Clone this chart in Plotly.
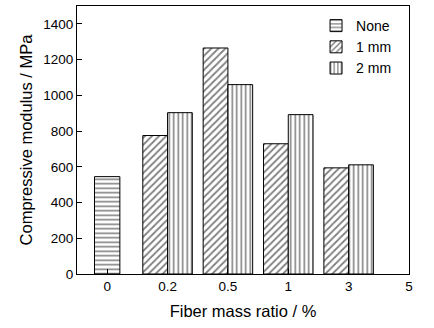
import plotly.graph_objects as go

categories = ['0', '0.2', '0.5', '1', '3', '5']
none_cats = ['0']
none_vals = [545]
mm_cats = ['0.2', '0.5', '1', '3']
mm1_vals = [775, 1265, 729, 594]
mm2_vals = [903, 1060, 892, 611]

pos = {c: i for i, c in enumerate(categories)}

FONT = "Liberation Sans, Arial, sans-serif"

fig = go.Figure()
fig.add_trace(go.Bar(
    name='None', x=[pos[c] for c in none_cats], y=none_vals,
    width=0.42, offset=-0.21,
    marker=dict(color='white', line=dict(color='black', width=1),
                pattern=dict(shape='-', fgcolor='black', bgcolor='white', size=4.5, solidity=0.35)),
))
fig.add_trace(go.Bar(
    name='1 mm', x=[pos[c] for c in mm_cats], y=mm1_vals,
    width=0.41, offset=-0.41,
    marker=dict(color='white', line=dict(color='black', width=1),
                pattern=dict(shape='/', fgcolor='black', bgcolor='white', size=5, solidity=0.35)),
))
fig.add_trace(go.Bar(
    name='2 mm', x=[pos[c] for c in mm_cats], y=mm2_vals,
    width=0.41, offset=0.0,
    marker=dict(color='white', line=dict(color='black', width=1),
                pattern=dict(shape='|', fgcolor='black', bgcolor='white', size=4.5, solidity=0.35)),
))

fig.update_layout(
    width=434, height=328,
    margin=dict(l=77, r=25, t=6, b=54),
    paper_bgcolor='white', plot_bgcolor='white',
    barmode='overlay',
    font=dict(family=FONT, color='black', size=13.5),
    showlegend=True,
    legend=dict(x=0.72, y=0.985, xanchor='left', yanchor='top',
                bgcolor='rgba(0,0,0,0)', font=dict(size=14), tracegroupgap=0),
    xaxis=dict(range=[-0.5, 5], tickmode='array', tickvals=list(range(len(categories))),
               ticktext=categories, showline=True, linecolor='black', linewidth=1, mirror=True,
               ticks='inside', ticklen=5, tickcolor='black', showgrid=False, zeroline=False,
               title=dict(text='Fiber mass ratio / %', font=dict(size=16.5), standoff=12),
               tickfont=dict(size=13.5)),
    yaxis=dict(range=[0, 1500], tickmode='array', tickvals=[0, 200, 400, 600, 800, 1000, 1200, 1400],
               showline=True, linecolor='black', linewidth=1, mirror=True,
               ticks='inside', ticklen=5, tickcolor='black', showgrid=False, zeroline=False,
               title=dict(text='Compressive modulus / MPa', font=dict(size=16.5), standoff=6),
               tickfont=dict(size=13.5)),
)

fig.write_html("out.html")
